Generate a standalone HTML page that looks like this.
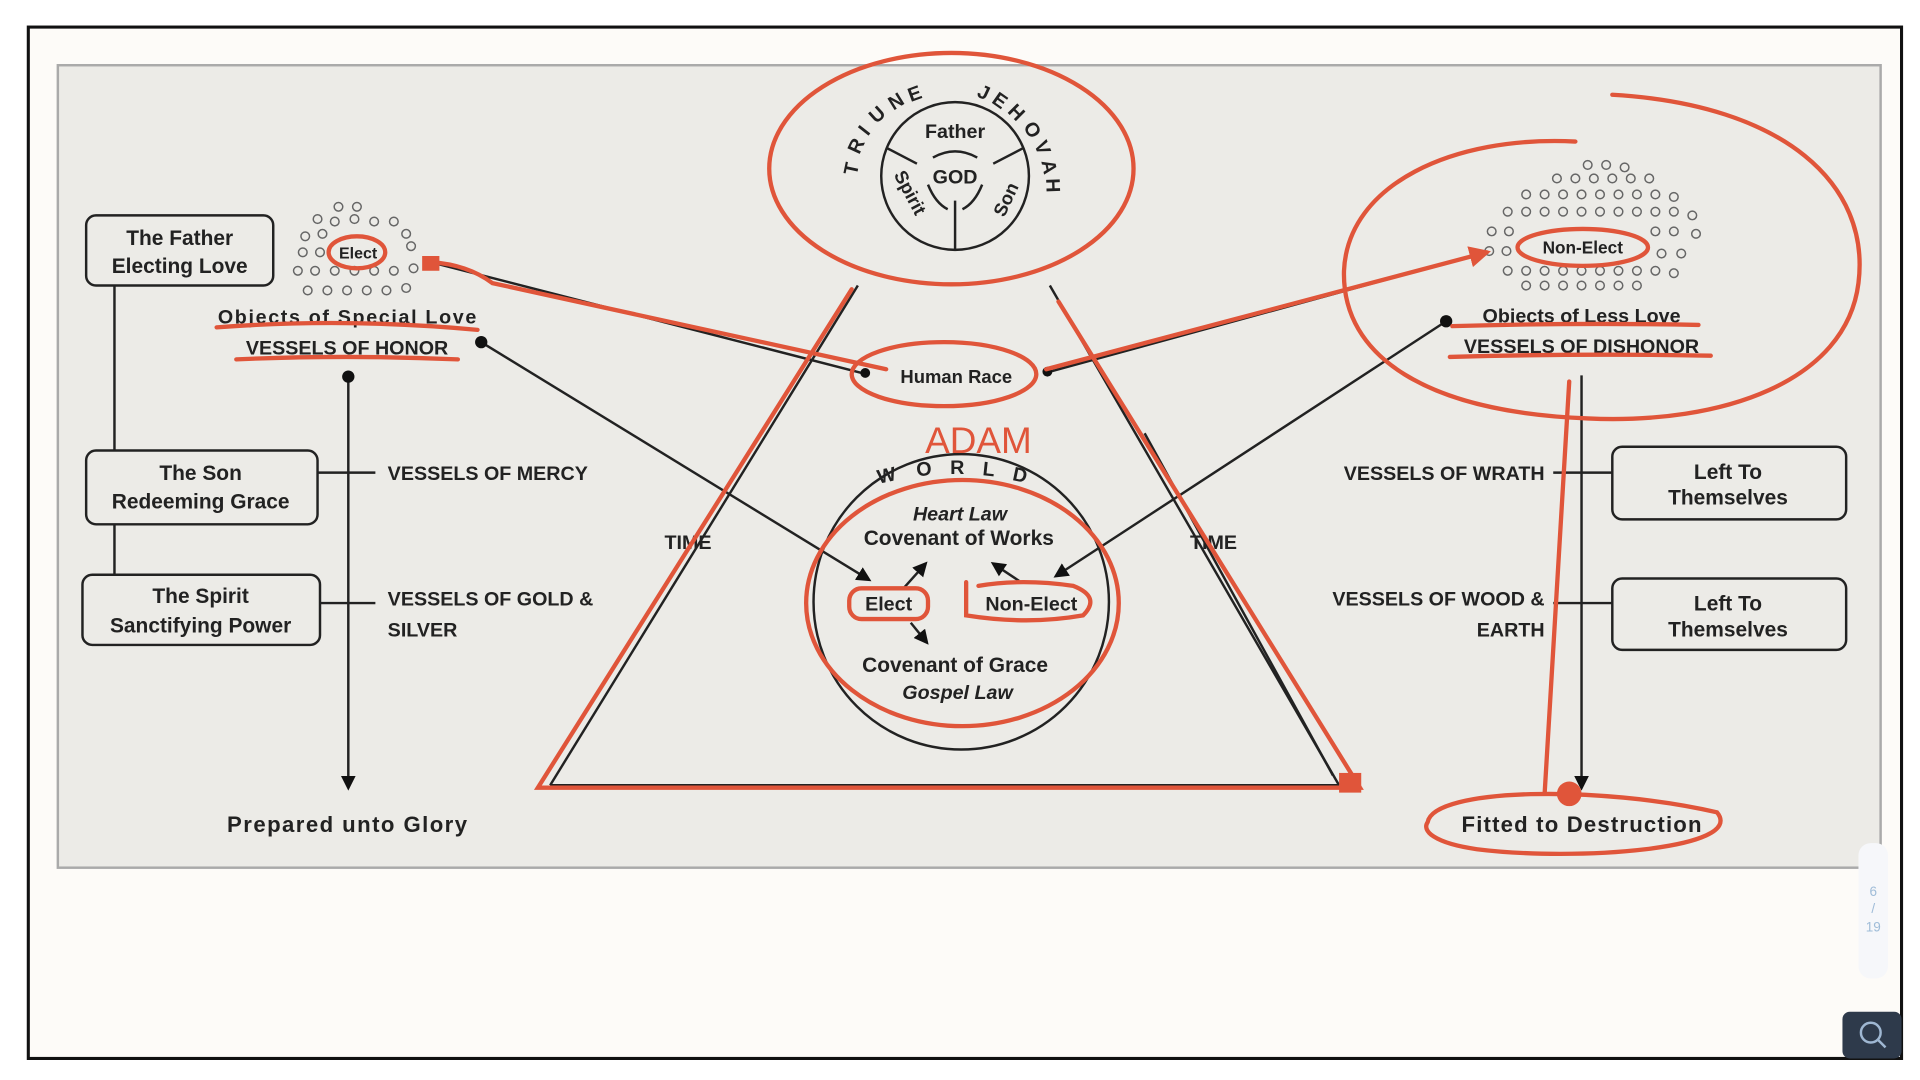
<!DOCTYPE html>
<html><head><meta charset="utf-8"><style>
html,body{margin:0;padding:0;background:#fff;}
svg{display:block;}
text{font-family:"Liberation Sans",sans-serif;fill:#222;}
.b{font-weight:bold;}
</style></head><body>
<svg width="1920" height="1080" viewBox="0 0 1560 877.5" preserveAspectRatio="none" xmlns="http://www.w3.org/2000/svg">
<defs>
<marker id="ah" viewBox="0 0 10 10" refX="8" refY="5" markerWidth="6" markerHeight="6" orient="auto"><path d="M0,0L10,5L0,10z" fill="#111"/></marker>
<marker id="rh" viewBox="0 0 10 10" refX="8" refY="5" markerWidth="5" markerHeight="5" orient="auto"><path d="M0,0L10,5L0,10z" fill="#e0553a"/></marker>
</defs>
<rect x="0" y="0" width="1560" height="877.5" fill="#fff"/>
<rect x="23" y="22" width="1522" height="838" fill="#fdfbf8" stroke="#111" stroke-width="2.5"/>
<rect x="47" y="53" width="1481" height="652" fill="#ecebe7" stroke="#aaa" stroke-width="2"/>
<rect x="1510" y="685" width="24" height="110" rx="10" fill="#f6f7fa"/>
<text x="1522" y="728" font-size="11" style="fill:#9fbcd8" text-anchor="middle">6</text>
<text x="1522" y="742" font-size="11" style="fill:#9fbcd8" text-anchor="middle">/</text>
<text x="1522" y="757" font-size="11" style="fill:#9fbcd8" text-anchor="middle">19</text>
<rect x="1497" y="822" width="48" height="38" rx="6" fill="#2e3a4b"/>
<circle cx="1520" cy="839" r="8" fill="none" stroke="#9fb7d2" stroke-width="2"/>
<line x1="1526" y1="845" x2="1532" y2="851" stroke="#9fb7d2" stroke-width="2"/>

<g stroke="#222" stroke-width="2" fill="none">
<rect x="70" y="175" width="152" height="57" rx="8"/>
<rect x="70" y="366" width="188" height="60" rx="8"/>
<rect x="67" y="467" width="193" height="57" rx="8"/>
<line x1="93" y1="232" x2="93" y2="366"/>
<line x1="93" y1="426" x2="93" y2="467"/>
<line x1="258" y1="384" x2="305" y2="384"/>
<line x1="260" y1="490" x2="305" y2="490"/>
<line x1="283" y1="306" x2="283" y2="640" marker-end="url(#ah)"/>
<line x1="391" y1="278" x2="706" y2="471" marker-end="url(#ah)"/>
<line x1="350" y1="213" x2="700" y2="303"/>
<rect x="1310" y="363" width="190" height="59" rx="8"/>
<rect x="1310" y="470" width="190" height="58" rx="8"/>
<line x1="1262" y1="384" x2="1310" y2="384"/>
<line x1="1262" y1="490" x2="1310" y2="490"/>
<line x1="1285" y1="305" x2="1285" y2="640" marker-end="url(#ah)"/>
<line x1="1175" y1="261" x2="858" y2="468" marker-end="url(#ah)"/>
<line x1="853" y1="302" x2="1200" y2="207"/>
<line x1="697" y1="232" x2="447" y2="638"/>
<line x1="853" y1="232" x2="1088" y2="638"/>
<line x1="447" y1="638" x2="1088" y2="638"/>
<line x1="930" y1="352" x2="1083" y2="630"/>
<circle cx="776" cy="143" r="60"/>
<line x1="720" y1="120" x2="745" y2="133"/>
<line x1="832" y1="120" x2="807" y2="133"/>
<line x1="776" y1="203" x2="776" y2="163"/>
<path d="M758,128 Q776,118 794,128"/>
<path d="M754,150 Q760,165 770,170"/>
<path d="M798,150 Q792,165 782,170"/>
<circle cx="781" cy="489" r="120"/>
<line x1="735" y1="477" x2="752" y2="458" marker-end="url(#ah)"/>
<line x1="740" y1="506" x2="753" y2="522" marker-end="url(#ah)"/>
<line x1="828" y1="472" x2="807" y2="458" marker-end="url(#ah)"/>
</g>
<g fill="#111">
<circle cx="283" cy="306" r="5"/><circle cx="391" cy="278" r="5"/><circle cx="1175" cy="261" r="5"/>
<circle cx="703" cy="303" r="4"/><circle cx="851" cy="302" r="4"/>
</g>
<g fill="none" stroke="#666" stroke-width="1.2">
<circle cx="275" cy="168" r="3.5"/><circle cx="290" cy="168" r="3.5"/>
<circle cx="258" cy="178" r="3.5"/><circle cx="272" cy="180" r="3.5"/><circle cx="288" cy="178" r="3.5"/><circle cx="304" cy="180" r="3.5"/><circle cx="320" cy="180" r="3.5"/>
<circle cx="248" cy="192" r="3.5"/><circle cx="262" cy="190" r="3.5"/><circle cx="330" cy="190" r="3.5"/>
<circle cx="246" cy="205" r="3.5"/><circle cx="260" cy="205" r="3.5"/><circle cx="334" cy="200" r="3.5"/>
<circle cx="242" cy="220" r="3.5"/><circle cx="256" cy="220" r="3.5"/><circle cx="272" cy="220" r="3.5"/><circle cx="288" cy="220" r="3.5"/><circle cx="304" cy="220" r="3.5"/><circle cx="320" cy="220" r="3.5"/><circle cx="336" cy="218" r="3.5"/>
<circle cx="250" cy="236" r="3.5"/><circle cx="266" cy="236" r="3.5"/><circle cx="282" cy="236" r="3.5"/><circle cx="298" cy="236" r="3.5"/><circle cx="314" cy="236" r="3.5"/><circle cx="330" cy="234" r="3.5"/>
<circle cx="1290" cy="134" r="3.5"/><circle cx="1305" cy="134" r="3.5"/><circle cx="1320" cy="136" r="3.5"/>
<circle cx="1265" cy="145" r="3.5"/><circle cx="1280" cy="145" r="3.5"/><circle cx="1295" cy="145" r="3.5"/><circle cx="1310" cy="145" r="3.5"/><circle cx="1325" cy="145" r="3.5"/><circle cx="1340" cy="145" r="3.5"/>
<circle cx="1240" cy="158" r="3.5"/><circle cx="1255" cy="158" r="3.5"/><circle cx="1270" cy="158" r="3.5"/><circle cx="1285" cy="158" r="3.5"/><circle cx="1300" cy="158" r="3.5"/><circle cx="1315" cy="158" r="3.5"/><circle cx="1330" cy="158" r="3.5"/><circle cx="1345" cy="158" r="3.5"/><circle cx="1360" cy="160" r="3.5"/>
<circle cx="1225" cy="172" r="3.5"/><circle cx="1240" cy="172" r="3.5"/><circle cx="1255" cy="172" r="3.5"/><circle cx="1270" cy="172" r="3.5"/><circle cx="1285" cy="172" r="3.5"/><circle cx="1300" cy="172" r="3.5"/><circle cx="1315" cy="172" r="3.5"/><circle cx="1330" cy="172" r="3.5"/><circle cx="1345" cy="172" r="3.5"/><circle cx="1360" cy="172" r="3.5"/><circle cx="1375" cy="175" r="3.5"/>
<circle cx="1212" cy="188" r="3.5"/><circle cx="1226" cy="188" r="3.5"/><circle cx="1345" cy="188" r="3.5"/><circle cx="1360" cy="188" r="3.5"/><circle cx="1378" cy="190" r="3.5"/>
<circle cx="1210" cy="204" r="3.5"/><circle cx="1224" cy="204" r="3.5"/><circle cx="1350" cy="206" r="3.5"/><circle cx="1366" cy="206" r="3.5"/>
<circle cx="1225" cy="220" r="3.5"/><circle cx="1240" cy="220" r="3.5"/><circle cx="1255" cy="220" r="3.5"/><circle cx="1270" cy="220" r="3.5"/><circle cx="1285" cy="220" r="3.5"/><circle cx="1300" cy="220" r="3.5"/><circle cx="1315" cy="220" r="3.5"/><circle cx="1330" cy="220" r="3.5"/><circle cx="1345" cy="220" r="3.5"/><circle cx="1360" cy="222" r="3.5"/>
<circle cx="1240" cy="232" r="3.5"/><circle cx="1255" cy="232" r="3.5"/><circle cx="1270" cy="232" r="3.5"/><circle cx="1285" cy="232" r="3.5"/><circle cx="1300" cy="232" r="3.5"/><circle cx="1315" cy="232" r="3.5"/><circle cx="1330" cy="232" r="3.5"/>
</g>

<g class="b" font-size="17" text-anchor="middle">
<text x="146" y="199" class="b">The Father</text>
<text x="146" y="222" class="b">Electing Love</text>
<text x="163" y="390" class="b">The Son</text>
<text x="163" y="413" class="b">Redeeming Grace</text>
<text x="163" y="490" class="b">The Spirit</text>
<text x="163" y="514" class="b">Sanctifying Power</text>
<text x="1404" y="389" class="b">Left To</text>
<text x="1404" y="410" class="b">Themselves</text>
<text x="1404" y="496" class="b">Left To</text>
<text x="1404" y="517" class="b">Themselves</text>
<text x="282" y="263" class="b" font-size="16" textLength="210">Objects of Special Love</text>
<text x="282" y="288" class="b" font-size="16">VESSELS OF HONOR</text>
<text x="1285" y="262" class="b" font-size="16">Objects of Less Love</text>
<text x="1285" y="287" class="b" font-size="16">VESSELS OF DISHONOR</text>
<text x="282" y="676" class="b" font-size="18" textLength="195">Prepared unto Glory</text>
<text x="1285" y="676" class="b" font-size="18" textLength="195">Fitted to Destruction</text>
<text x="291" y="210" class="b" font-size="13">Elect</text>
<text x="1286" y="206" class="b" font-size="14">Non-Elect</text>
<text x="777" y="311" class="b" font-size="15">Human Race</text>
<text x="780" y="423" font-size="16" font-style="italic" class="b">Heart Law</text>
<text x="779" y="443" class="b" font-size="17">Covenant of Works</text>
<text x="722" y="496" class="b" font-size="16">Elect</text>
<text x="838" y="496" class="b" font-size="16">Non-Elect</text>
<text x="776" y="546" class="b" font-size="17">Covenant of Grace</text>
<text x="778" y="568" font-size="16" font-style="italic">Gospel Law</text>
<text x="559" y="446" class="b" font-size="16">TIME</text>
<text x="986" y="446" class="b" font-size="16">TIME</text>
<text x="776" y="112" class="b" font-size="16">Father</text>
<text x="776" y="149" class="b" font-size="16">GOD</text>
</g>
<g class="b" font-size="16">
<text x="315" y="390" class="b">VESSELS OF MERCY</text>
<text x="315" y="492" class="b">VESSELS OF GOLD &amp;</text>
<text x="315" y="517" class="b">SILVER</text>
<text x="1255" y="390" class="b" text-anchor="end">VESSELS OF WRATH</text>
<text x="1255" y="492" class="b" text-anchor="end">VESSELS OF WOOD &amp;</text>
<text x="1255" y="517" class="b" text-anchor="end">EARTH</text>
</g>
<text x="0" y="0" class="b" font-size="15" transform="translate(726,142) rotate(62)">Spirit</text>
<text x="0" y="0" class="b" font-size="15" transform="translate(816,177) rotate(-65)">Son</text>
<g class="b" font-size="16">
<text transform="translate(696,143) rotate(-78)">T</text>
<text transform="translate(698,126) rotate(-65)">R</text>
<text transform="translate(705,111) rotate(-52)">I</text>
<text transform="translate(712,101) rotate(-42)">U</text>
<text transform="translate(726,90) rotate(-32)">N</text>
<text transform="translate(740,83) rotate(-20)">E</text>
<text transform="translate(793,78) rotate(25)">J</text>
<text transform="translate(805,83) rotate(35)">E</text>
<text transform="translate(818,91) rotate(45)">H</text>
<text transform="translate(831,103) rotate(58)">O</text>
<text transform="translate(840,117) rotate(68)">V</text>
<text transform="translate(846,131) rotate(78)">A</text>
<text transform="translate(850,145) rotate(88)">H</text>
<text transform="translate(714,393) rotate(-12)">W</text>
<text transform="translate(745,387) rotate(-5)">O</text>
<text transform="translate(772,385)">R</text>
<text transform="translate(798,386) rotate(6)">L</text>
<text transform="translate(822,390) rotate(12)">D</text>
</g>
<text x="795" y="368" text-anchor="middle" font-size="30" style="fill:#e0553a" font-family="Liberation Sans">ADAM</text>

<g stroke="#e0553a" stroke-width="3.5" fill="none" stroke-linecap="round">
<ellipse cx="773" cy="137" rx="148" ry="94"/>
<path d="M1310,77 C1450,85 1520,150 1510,230 C1500,310 1400,345 1290,340 C1160,335 1090,290 1092,220 C1095,150 1180,110 1280,115"/>
<ellipse cx="290" cy="205" rx="23" ry="13"/>
<ellipse cx="1286" cy="201" rx="53" ry="15"/>
<path d="M176,266 Q280,258 388,268"/>
<path d="M192,292 Q280,288 372,292"/>
<path d="M1180,265 Q1280,262 1380,264"/>
<path d="M1178,290 Q1285,287 1390,289"/>
<ellipse cx="767" cy="304" rx="75" ry="26"/>
<ellipse cx="782" cy="490" rx="127" ry="100"/>
<rect x="690" y="478" width="64" height="25" rx="10"/>
<path d="M785,473 L785,500 Q835,508 880,500 Q895,485 872,476 Q830,470 795,476"/>
<path d="M692,235 L437,640 L1105,640 L860,245"/>
<path d="M350,213 Q380,215 400,230 L720,300"/>
<line x1="850" y1="300" x2="1208" y2="205" marker-end="url(#rh)"/>
<path d="M1275,310 L1255,645"/>
<path d="M1160,668 C1165,640 1300,638 1395,660 C1420,690 1280,700 1200,690 C1165,685 1155,675 1160,668"/>
</g>
<rect x="343" y="208" width="14" height="12" fill="#e0553a"/>
<rect x="1088" y="628" width="18" height="16" fill="#e0553a"/>
<circle cx="1275" cy="645" r="10" fill="#e0553a"/>
</svg>
</body></html>
